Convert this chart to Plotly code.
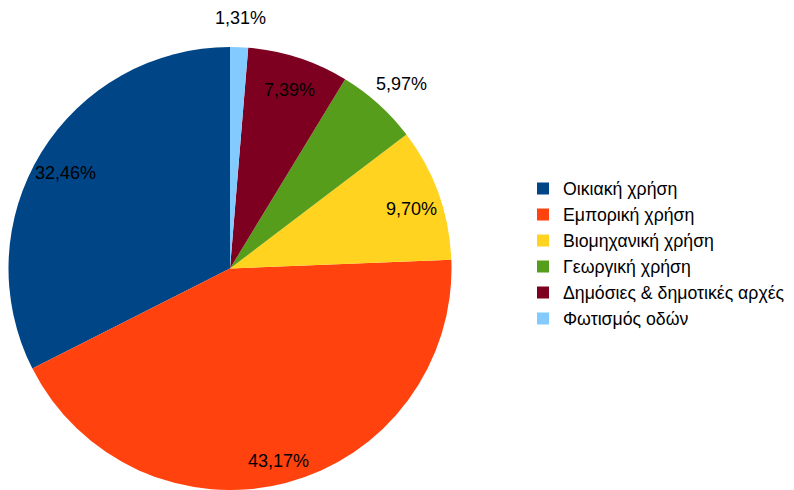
import numpy as np
import plotly.graph_objects as go

# Data
categories = [
    "Οικιακή χρήση",
    "Εμπορική χρήση",
    "Βιομηχανική χρήση",
    "Γεωργική χρήση",
    "Δημόσιες & δημοτικές αρχές",
    "Φωτισμός οδών",
]
shares = [32.46, 43.17, 9.70, 5.97, 7.39, 1.31]
label_outside = [False, False, False, True, False, True]

colors = ["#004586", "#ff420e", "#ffd320", "#579d1c", "#7e0021", "#83caff"]

# page body adds 8px margin, so keep the figure inside the window
W, H = 786, 482
# pie placement in pixels (figure coords)
CX, CY, R = 222, 261, 222
FONT = "Liberation Sans, Arial, sans-serif"

# plotly's counterclockwise pies end the first slice at the rotation angle,
# so rotate back by the first slice to start it at 12 o'clock
first_angle = shares[0] / sum(shares) * 360

fig = go.Figure(go.Pie(
    labels=categories,
    values=shares,
    sort=False,
    direction="counterclockwise",
    rotation=-first_angle,
    marker=dict(colors=colors, line=dict(width=0)),
    textinfo="none",
    hoverinfo="label+percent",
    domain=dict(x=[(CX - R) / W, (CX + R) / W],
                y=[max(0, 1 - (CY + R) / H), 1 - (CY - R) / H]),
))

# percent labels placed at the middle angle of each slice
vals = np.array(shares)
cum = np.cumsum(vals) - vals / 2
mid = np.deg2rad(cum / vals.sum() * 360)
for v, a, out in zip(shares, mid, label_outside):
    f = 1.155 if out else 0.87
    px = CX - f * R * np.sin(a)
    py = CY - f * R * np.cos(a)
    fig.add_annotation(
        x=px / W, y=1 - py / H, xref="paper", yref="paper",
        xanchor="center", yanchor="middle",
        text=f"{v:.2f}%".replace(".", ","),
        showarrow=False, yshift=-5,
        font=dict(family=FONT, size=18, color="#000000"),
    )

fig.update_layout(
    width=W, height=H,
    margin=dict(l=0, r=0, t=0, b=0),
    paper_bgcolor="white",
    plot_bgcolor="white",
    showlegend=True,
    legend=dict(
        x=515 / W, y=1 - 246 / H, xanchor="left", yanchor="middle",
        font=dict(family=FONT, size=17.7, color="#000000"),
        bgcolor="rgba(0,0,0,0)",
    ),
)

fig.write_html("out.html")
